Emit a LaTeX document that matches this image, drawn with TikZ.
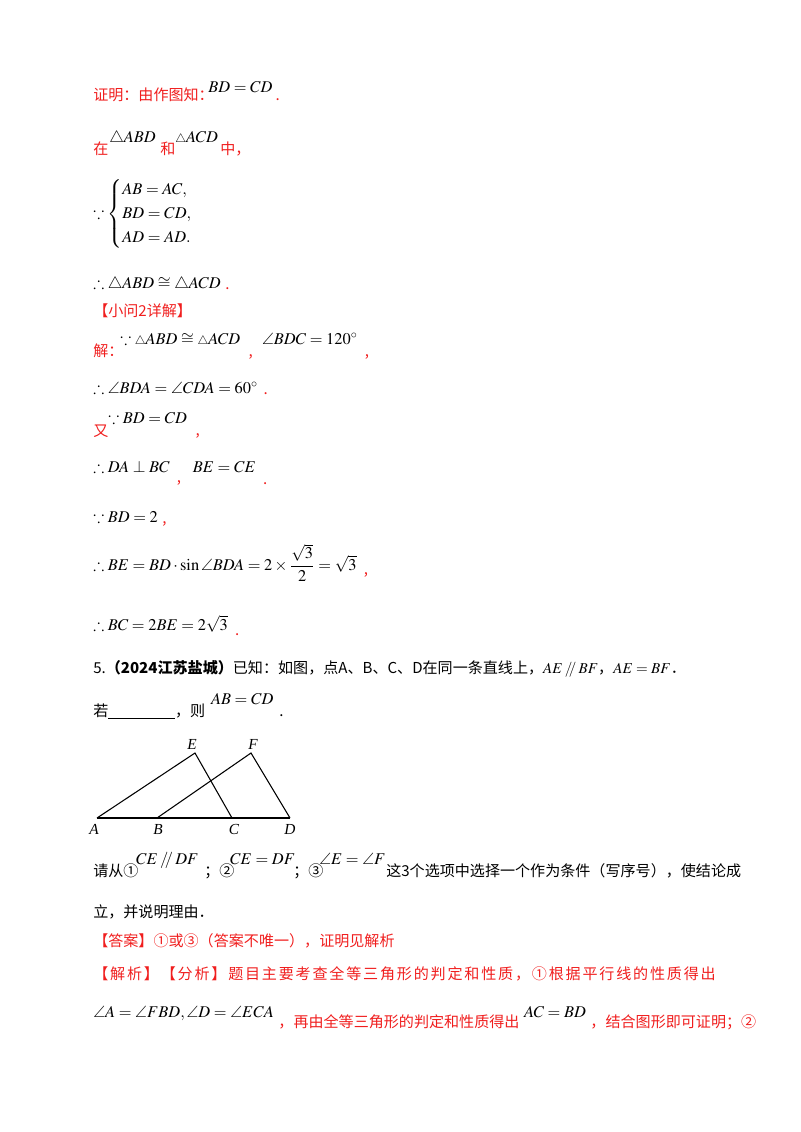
\documentclass[tikz,border=0pt]{standalone}
\usepackage{amsmath,amssymb}
\usepackage{mathptmx}
\usepackage{fontspec}
\setmainfont{Liberation Serif}
\newfontfamily\cjk{Noto Sans CJK SC}
\begin{document}
\begin{tikzpicture}[x=0.75pt,y=0.75pt,yscale=-1,xscale=1,
  zh/.style={anchor=base west,inner sep=0pt,font=\cjk\fontsize{11.3}{13}\selectfont},
  rd/.style={zh,text={rgb,255:red,240;green,30;blue,30}},
  mt/.style={anchor=base west,inner sep=0pt,font=\fontsize{12.3}{15}\selectfont},
  pt/.style={anchor=base,inner sep=0pt,font=\fontsize{11.5}{13}\selectfont\itshape}]
\useasboundingbox (0,0) rectangle (800,1132);
% proof of part 1
\node[rd] (l1a) at (93,100) {证明：由作图知：};
\node[mt] (l1b) at (208,92) {$BD=CD$};
\node[rd] (l1c) at ([xshift=2pt,yshift=6pt]l1b.base east) {.};
\node[rd] (l2a) at (93,154) {在};
\node[mt] (l2b) at (109,142) {$\triangle ABD$};
\node[rd] (l2c) at (160,154) {和};
\node[mt] (l2d) at (175,142) {${\scriptstyle\triangle}ACD$};
\node[rd] (l2e) at (220,154) {中，};
\node[mt] (l3) at (93,218) {$\because\begin{cases}AB=AC,\\ BD=CD,\\ AD=AD.\end{cases}$};
\node[mt] (l4a) at (93,288) {$\therefore\triangle ABD\cong\triangle ACD$};
\node[rd] (l4b) at ([xshift=3pt,yshift=1pt]l4a.base east) {.};
\node[rd] (l5) at (93,316) {【小问2详解】};
% part 2
\node[rd] (l6a) at (93,356) {解：};
\node[mt] (l6b) at (120,344) {$\because{\scriptstyle\triangle}ABD\cong{\scriptstyle\triangle}ACD$};
\node[rd] (l6c) at ([xshift=6pt,yshift=9pt]l6b.base east) {,};
\node[mt] (l6d) at ([xshift=16pt]l6b.base east) {$\angle BDC=120^\circ$};
\node[rd] (l6e) at ([xshift=5pt,yshift=9pt]l6d.base east) {,};
\node[mt] (l7a) at (93,393) {$\therefore\angle BDA=\angle CDA=60^\circ$};
\node[rd] (l7b) at ([xshift=4pt,yshift=1pt]l7a.base east) {.};
\node[rd] (l8a) at (93,436) {又};
\node[mt] (l8b) at (108,423) {$\because BD=CD$};
\node[rd] (l8c) at ([xshift=6pt,yshift=9pt]l8b.base east) {,};
\node[mt] (l9a) at (93,472) {$\therefore DA\perp BC$};
\node[rd] (l9b) at ([xshift=5pt,yshift=8pt]l9a.base east) {,};
\node[mt] (l9c) at ([xshift=17pt]l9a.base east) {$BE=CE$};
\node[rd] (l9d) at ([xshift=5pt,yshift=9pt]l9c.base east) {.};
\node[mt] (l10a) at (93,522) {$\because BD=2$};
\node[rd] (l10b) at ([xshift=3pt,yshift=1pt]l10a.base east) {,};
\node[mt] (l11a) at (93,570) {$\therefore BE=BD\cdot\sin\angle BDA=2\times\dfrac{\sqrt3}{2}=\sqrt3$};
\node[rd] (l11b) at ([xshift=5pt,yshift=3pt]l11a.base east) {,};
\node[mt] (l12a) at (93,630) {$\therefore BC=2BE=2\sqrt3$};
\node[rd] (l12b) at ([xshift=5pt,yshift=4pt]l12a.base east) {.};
% question 5
\node[zh] (q1) at (93,673) {5.\textbf{（2024江苏盐城）}已知：如图，点\textit{A}、\textit{B}、\textit{C}、\textit{D}在同一条直线上，$AE\mathbin{/\mkern-4mu/}BF$，$AE=BF$．};
\node[zh] (q2a) at (93,716) {若\underline{\hspace{50pt}}，则};
\node[mt] (q2b) at ([xshift=4pt,yshift=-9pt]q2a.base east) {$AB=CD$};
\node[zh] (q2c) at ([xshift=4pt,yshift=9pt]q2b.base east) {.};
% figure
\coordinate (A) at (97,818);
\coordinate (B) at (157,818);
\coordinate (C) at (232,818);
\coordinate (D) at (290,818);
\coordinate (E) at (195,753);
\coordinate (F) at (251,753);
\draw[line width=0.8pt] (A) -- (D);
\draw[line width=0.8pt] (A) -- (E) -- (C);
\draw[line width=0.8pt] (B) -- (F) -- (D);
\node[pt] (lA) at (94,834) {A};
\node[pt] (lB) at (158,834) {B};
\node[pt] (lC) at (234,834) {C};
\node[pt] (lD) at (290,834) {D};
\node[pt] (lE) at (192,749) {E};
\node[pt] (lF) at (253,749) {F};
\node[zh] (q3a) at (93,876) {请从①};
\node[mt] (q3b) at (136,864) {$CE\mathbin{/\mkern-4mu/}DF$};
\node[zh] (q3c) at (204,876) {；②};
\node[mt] (q3d) at (230,864) {$CE=DF$};
\node[zh] (q3e) at (293,876) {；③};
\node[mt] (q3f) at (319,864) {$\angle E=\angle F$};
\node[zh] (q3g) at (386,876) {这3个选项中选择一个作为条件（写序号），使结论成};
\node[zh] (q4) at (93,917) {立，并说明理由．};
\node[rd] (a1) at (93,946) {【答案】①或③（答案不唯一），证明见解析};
\node[rd,font=\cjk\fontsize{11.3}{13}\selectfont\addfontfeature{LetterSpace=12}] (a2) at (93,979) {【解析】【分析】题目主要考查全等三角形的判定和性质，①根据平行线的性质得出};
\node[mt] (a3a) at (93,1017) {$\angle A=\angle FBD,\angle D=\angle ECA$};
\node[rd] (a3b) at ([xshift=3pt,yshift=8pt]a3a.base east) {，再由全等三角形的判定和性质得出};
\node[mt] (a3c) at ([xshift=3pt,yshift=-8pt]a3b.base east) {$AC=BD$};
\node[rd] (a3d) at ([xshift=3pt,yshift=8pt]a3c.base east) {，结合图形即可证明；②};
\end{tikzpicture}
\end{document}
